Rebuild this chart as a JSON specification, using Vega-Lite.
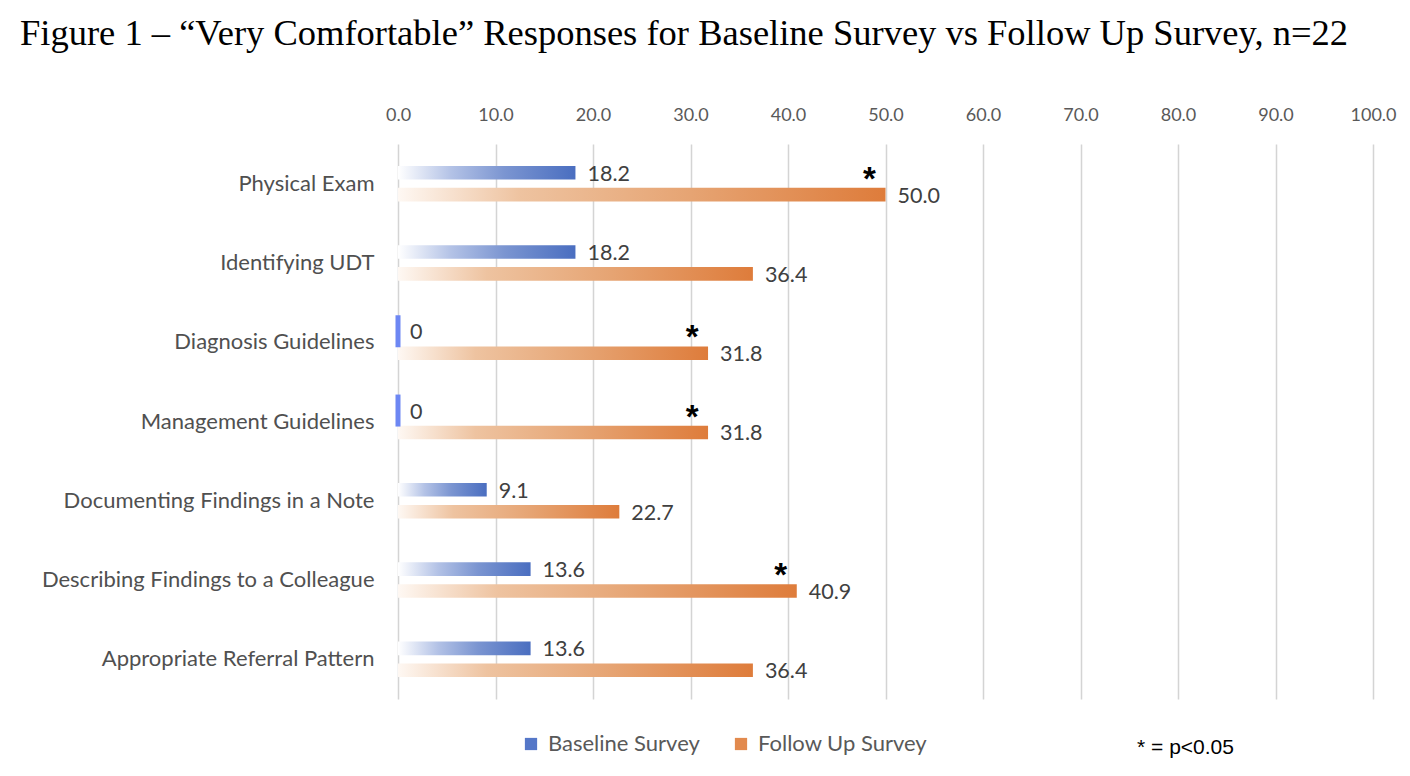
{
  "$schema": "https://vega.github.io/schema/vega-lite/v6.json",
  "width": 975,
  "height": 555,
  "autosize": "none",
  "padding": {"left": 398, "top": 144, "right": 37, "bottom": 77},
  "background": "white",
  "config": {"view": {"stroke": null}},
  "title": {
    "text": "Figure 1 – “Very Comfortable” Responses for Baseline Survey vs Follow Up Survey, n=22",
    "anchor": "start",
    "frame": "group",
    "dx": -378,
    "offset": 54,
    "font": "Liberation Serif",
    "fontSize": 36.5,
    "fontWeight": "normal",
    "color": "black"
  },
  "data": {
    "values": [
      {"category": "Physical Exam", "series": "Baseline Survey", "value": 18.2, "label": "18.2", "sig": false},
      {"category": "Physical Exam", "series": "Follow Up Survey", "value": 50.0, "label": "50.0", "sig": true},
      {"category": "Identifying UDT", "series": "Baseline Survey", "value": 18.2, "label": "18.2", "sig": false},
      {"category": "Identifying UDT", "series": "Follow Up Survey", "value": 36.4, "label": "36.4", "sig": false},
      {"category": "Diagnosis Guidelines", "series": "Baseline Survey", "value": 0, "label": "0", "sig": false},
      {"category": "Diagnosis Guidelines", "series": "Follow Up Survey", "value": 31.8, "label": "31.8", "sig": true},
      {"category": "Management Guidelines", "series": "Baseline Survey", "value": 0, "label": "0", "sig": false},
      {"category": "Management Guidelines", "series": "Follow Up Survey", "value": 31.8, "label": "31.8", "sig": true},
      {"category": "Documenting Findings in a Note", "series": "Baseline Survey", "value": 9.1, "label": "9.1", "sig": false},
      {"category": "Documenting Findings in a Note", "series": "Follow Up Survey", "value": 22.7, "label": "22.7", "sig": false},
      {"category": "Describing Findings to a Colleague", "series": "Baseline Survey", "value": 13.6, "label": "13.6", "sig": false},
      {"category": "Describing Findings to a Colleague", "series": "Follow Up Survey", "value": 40.9, "label": "40.9", "sig": true},
      {"category": "Appropriate Referral Pattern", "series": "Baseline Survey", "value": 13.6, "label": "13.6", "sig": false},
      {"category": "Appropriate Referral Pattern", "series": "Follow Up Survey", "value": 36.4, "label": "36.4", "sig": false}
    ]
  },
  "encoding": {
    "y": {
      "field": "category",
      "type": "nominal",
      "sort": ["Physical Exam", "Identifying UDT", "Diagnosis Guidelines", "Management Guidelines", "Documenting Findings in a Note", "Describing Findings to a Colleague", "Appropriate Referral Pattern"],
      "scale": {"paddingInner": 0, "paddingOuter": 0},
      "axis": {
        "orient": "left",
        "title": null,
        "domain": false,
        "ticks": false,
        "labelFont": "Lato",
        "labelFontSize": 22,
        "labelColor": "#505050",
        "labelPadding": 24,
        "labelLimit": 400
      }
    },
    "yOffset": {
      "field": "series",
      "type": "nominal",
      "sort": ["Baseline Survey", "Follow Up Survey"],
      "scale": {"paddingInner": 0.381, "paddingOuter": 1.078}
    }
  },
  "resolve": {"axis": {"x": "independent"}},
  "layer": [
    {
      "transform": [{"filter": "datum.series === 'Baseline Survey'"}],
      "mark": {
        "type": "bar",
        "fill": {
          "gradient": "linear", "x1": 0, "y1": 0, "x2": 1, "y2": 0,
          "stops": [
            {"offset": 0, "color": "#FFFFFF"},
            {"offset": 0.3, "color": "#B3C2E6"},
            {"offset": 0.6, "color": "#7B95D1"},
            {"offset": 1, "color": "#4A6EC0"}
          ]
        }
      },
      "encoding": {
        "x": {
          "field": "value",
          "type": "quantitative",
          "scale": {"domain": [0, 100]},
          "axis": {
            "orient": "top",
            "title": null,
            "values": [0, 10, 20, 30, 40, 50, 60, 70, 80, 90, 100],
            "format": ".1f",
            "grid": true,
            "gridColor": "#D4D4D4",
            "gridWidth": 1.5,
            "domain": false,
            "ticks": false,
            "labelFlush": false,
            "labelFont": "Lato",
            "labelFontSize": 18,
            "labelColor": "#595959",
            "labelPadding": 20
          }
        }
      }
    },
    {
      "transform": [{"filter": "datum.series === 'Follow Up Survey'"}],
      "mark": {
        "type": "bar",
        "fill": {
          "gradient": "linear", "x1": 0, "y1": 0, "x2": 1, "y2": 0,
          "stops": [
            {"offset": 0, "color": "#FEF8F3"},
            {"offset": 0.25, "color": "#EEC3A0"},
            {"offset": 0.6, "color": "#E6A473"},
            {"offset": 1, "color": "#DE7C3B"}
          ]
        }
      },
      "encoding": {
        "x": {"field": "value", "type": "quantitative", "axis": null}
      }
    },
    {
      "transform": [{"filter": "datum.value === 0"}],
      "mark": {"type": "tick", "color": "#6D87F3", "thickness": 5, "size": 32, "opacity": 1},
      "encoding": {
        "x": {"field": "value", "type": "quantitative", "axis": null}
      }
    },
    {
      "mark": {"type": "text", "align": "left", "baseline": "middle", "dx": 12, "dy": 2, "font": "Lato", "fontSize": 21.5, "color": "#404040"},
      "encoding": {
        "x": {"field": "value", "type": "quantitative", "axis": null},
        "text": {"field": "label"}
      }
    },
    {
      "transform": [{"filter": "datum.sig"}],
      "mark": {"type": "text", "align": "center", "baseline": "middle", "dx": -16, "dy": 7, "font": "Liberation Sans", "fontSize": 33, "fontWeight": "bold", "color": "black"},
      "encoding": {
        "x": {"field": "value", "type": "quantitative", "axis": null},
        "yOffset": {"datum": "Baseline Survey"},
        "text": {"value": "*"}
      }
    },
    {
      "mark": {"type": "square", "opacity": 0},
      "encoding": {
        "x": {
          "field": "value",
          "type": "quantitative",
          "axis": {
            "orient": "bottom",
            "labels": false,
            "ticks": false,
            "domain": false,
            "grid": false,
            "title": "* = p<0.05",
            "titleFont": "Liberation Sans",
            "titleFontSize": 21,
            "titleFontWeight": "normal",
            "titleColor": "black",
            "titleX": 787,
            "titleY": 48,
            "titleAlign": "center",
            "titleBaseline": "middle"
          }
        },
        "color": {
          "field": "series",
          "type": "nominal",
          "scale": {"domain": ["Baseline Survey", "Follow Up Survey"], "range": ["#5577C8", "#E28A4E"]},
          "legend": {
            "orient": "none",
            "legendX": 122,
            "legendY": 589,
            "direction": "horizontal",
            "title": null,
            "symbolType": "square",
            "symbolSize": 150,
            "symbolOpacity": 1,
            "labelFont": "Lato",
            "labelFontSize": 22,
            "labelColor": "#595959",
            "labelOffset": 6,
            "labelLimit": 300,
            "columnPadding": 30
          }
        }
      }
    }
  ]
}
